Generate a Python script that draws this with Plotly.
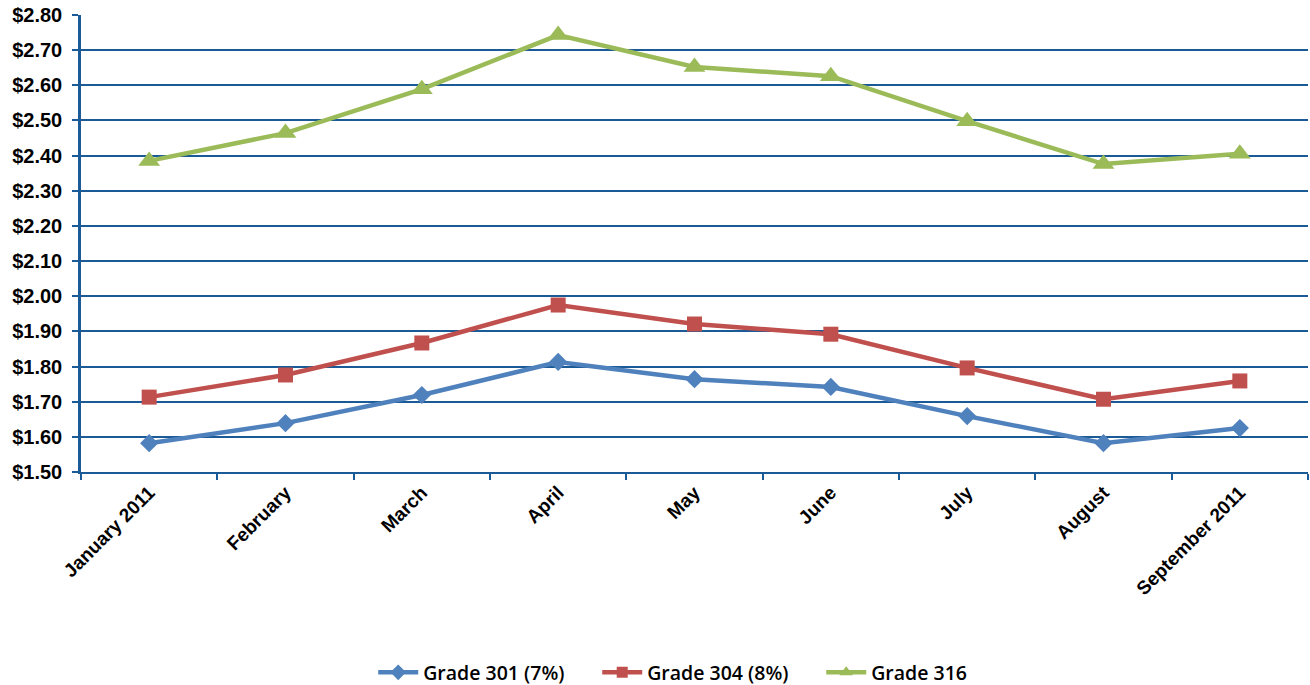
import plotly.graph_objects as go

months = ["January 2011", "February", "March", "April", "May", "June",
          "July", "August", "September 2011"]
grade_301 = [1.582, 1.639, 1.719, 1.813, 1.764, 1.742, 1.659, 1.582, 1.625]
grade_304 = [1.713, 1.776, 1.867, 1.975, 1.921, 1.892, 1.796, 1.707, 1.759]
grade_316 = [2.385, 2.464, 2.589, 2.743, 2.652, 2.626, 2.498, 2.376, 2.405]

navy = "#1a5a97"

series = [
    ("Grade 301 (7%)", grade_301, "#4f81bd", "diamond", 14, 12),
    ("Grade 304 (8%)", grade_304, "#c0504d", "square", 15, 11),
    ("Grade 316", grade_316, "#9bbb59", "triangle-up", 19, 12),
]

fig = go.Figure()
for name, vals, color, symbol, size, legend_size in series:
    fig.add_trace(go.Scatter(
        x=months, y=vals, name=name, mode="lines+markers",
        line=dict(color=color, width=4.5),
        marker=dict(symbol=symbol, size=size, color=color),
        showlegend=False, legendgroup=name,
    ))
    # legend entry with a smaller marker than the plotted points
    fig.add_trace(go.Scatter(
        x=[None], y=[None], name=name, mode="lines+markers",
        line=dict(color=color, width=4.5),
        marker=dict(symbol=symbol, size=legend_size, color=color),
        legendgroup=name, hoverinfo="skip",
    ))

fig.update_layout(
    width=1310, height=685,
    margin=dict(l=81, r=2, t=15, b=213),
    paper_bgcolor="white", plot_bgcolor="white",
    showlegend=True,
    legend=dict(
        orientation="h", x=0.512, xanchor="center",
        yref="container", y=0.018, yanchor="middle",
        font=dict(family="Open Sans, Noto Sans, sans-serif", size=19.5, color="black", weight=600),
        itemwidth=40, tracegroupgap=0, entrywidth=169, entrywidthmode="pixels",
    ),
    font=dict(family="Liberation Sans, Arial, sans-serif", color="black"),
)

fig.update_xaxes(
    type="category", range=[-0.5, 8.5], automargin=False,
    showline=True, linecolor=navy, linewidth=2,
    ticks="outside", tickson="boundaries", ticklen=6, tickcolor=navy, tickwidth=1.5,
    tickangle=-45, tickfont=dict(size=19, weight="bold"),
    showgrid=False, zeroline=False,
)
fig.update_yaxes(
    range=[1.5, 2.8], dtick=0.1, tick0=1.5, automargin=False,
    tickprefix="$", tickformat=".2f",
    showline=True, linecolor=navy, linewidth=2.5,
    ticks="outside", ticklen=6, tickcolor=navy, tickwidth=1.5,
    tickfont=dict(size=20, weight="bold"), ticklabelstandoff=6,
    showgrid=True, gridcolor=navy, gridwidth=1.5, zeroline=False,
)

fig.write_html("out.html")
